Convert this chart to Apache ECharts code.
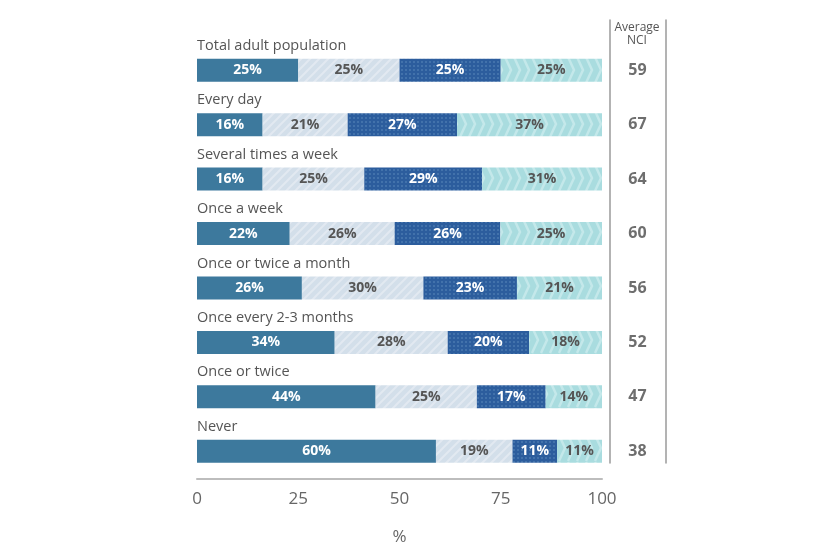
<!DOCTYPE html>
<html>
<head>
<meta charset="utf-8">
<script src="https://cdn.jsdelivr.net/npm/echarts@6/dist/echarts.min.js"></script>
<style>html,body{margin:0;padding:0;background:#fff}#c{width:830px;height:553px}</style>
</head>
<body>
<div id="c"></div>
<script>
const categories = ['Total adult population','Every day','Several times a week','Once a week','Once or twice a month','Once every 2-3 months','Once or twice','Never'];
// segment widths
const seg1 = [25, 16.2, 16.2, 22.9, 25.9, 34.0, 44.1, 59.0];
const seg2 = [25, 21.0, 25.1, 25.9, 30.0, 27.9, 25.0, 18.9];
const seg3 = [25, 27.0, 29.1, 26.1, 23.1, 20.1, 17.0, 11.0];
const seg4 = [25, 35.8, 29.6, 25.1, 21.0, 18.0, 13.9, 11.1];
// printed labels
const lab1 = [25, 16, 16, 22, 26, 34, 44, 60];
const lab2 = [25, 21, 25, 26, 30, 28, 25, 19];
const lab3 = [25, 27, 29, 26, 23, 20, 17, 11];
const lab4 = [25, 37, 31, 25, 21, 18, 14, 11];
const nci = [59, 67, 64, 60, 56, 52, 47, 38];
const xTicks = [0, 25, 50, 75, 100];

function pat(w, h, draw){
  const c = document.createElement('canvas'); c.width = w; c.height = h;
  const g = c.getContext('2d'); draw(g, w, h);
  return {image: c, repeat: 'repeat'};
}
const stripes = pat(9, 9, (g, w, h) => {
  g.fillStyle = '#d3dfea'; g.fillRect(0, 0, w, h);
  g.strokeStyle = '#e2e9f1'; g.lineWidth = 2;
  g.beginPath(); g.moveTo(-1, 10); g.lineTo(10, -1);
  g.moveTo(-1, 1); g.lineTo(1, -1); g.moveTo(8, 10); g.lineTo(10, 8); g.stroke();
});
const dots = pat(4, 4, (g, w, h) => {
  g.fillStyle = '#2c5d9d'; g.fillRect(0, 0, w, h);
  g.fillStyle = '#4272ab'; g.fillRect(1, 1, 2, 2);
});
const chevrons = pat(9, 54, (g, w, h) => {
  g.fillStyle = '#a9dcdf'; g.fillRect(0, 0, w, h);
  g.strokeStyle = '#c4e8ea'; g.lineWidth = 2.5;
  [16, 43].forEach(cy => {
    g.beginPath(); g.moveTo(1, cy - 13); g.lineTo(7, cy); g.lineTo(1, cy + 13); g.stroke();
  });
});

const FONT = '"Open Sans", sans-serif';
function mk(name, data, labels, color, txtColor){
  return {
    name, type: 'bar', stack: 'a', data, barWidth: 23,
    xAxisIndex: 0, yAxisIndex: 0,
    itemStyle: {color},
    label: {show: true, position: 'inside', color: txtColor, fontFamily: FONT, fontWeight: 'bold', fontSize: 14,
      formatter: p => labels[p.dataIndex] + '%'},
    emphasis: {disabled: true}, animation: false
  };
}

const chart = echarts.init(document.getElementById('c'));
chart.setOption({
  animation: false,
  title: {text: 'Average\nNCI', left: 637, top: 21, textAlign: 'center', padding: 0,
    textStyle: {fontFamily: FONT, fontSize: 12, fontWeight: 'normal', color: '#555', lineHeight: 13}},
  grid: [
    {left: 197, right: 228, top: 43, bottom: 74.5},
    {left: 609.5, right: 164.5, top: 20, bottom: 90},
    {left: 609.5, right: 164.5, top: 43, bottom: 74.5}
  ],
  xAxis: [
    {gridIndex: 0, type: 'value', min: 0, max: 100, interval: 25,
      axisLine: {show: true, lineStyle: {color: '#bdbdbd', width: 2}}, axisTick: {show: false}, splitLine: {show: false},
      axisLabel: {color: '#666', fontFamily: FONT, fontSize: 17, margin: 12, formatter: v => xTicks.includes(v) ? String(v) : ''},
      name: '%', nameLocation: 'middle', nameGap: 50, nameTextStyle: {color: '#666', fontFamily: FONT, fontSize: 17}},
    {gridIndex: 1, type: 'value', show: false},
    {gridIndex: 2, type: 'value', min: 0, max: 1, show: false}
  ],
  yAxis: [
    {gridIndex: 0, type: 'category', data: categories, inverse: true,
      axisLine: {show: false}, axisTick: {show: false}, splitLine: {show: false},
      axisLabel: {inside: true, interval: 0, margin: 0, align: 'left', verticalAlign: 'bottom', padding: [0, 0, 17, 0],
        color: '#555', fontFamily: FONT, fontSize: 14.5}},
    {gridIndex: 1, type: 'value', position: 'left', axisLine: {show: true, onZero: false, lineStyle: {color: '#9a9a9a', width: 1.5}},
      axisTick: {show: false}, axisLabel: {show: false}, splitLine: {show: false}},
    {gridIndex: 1, type: 'value', position: 'right', axisLine: {show: true, onZero: false, lineStyle: {color: '#9a9a9a', width: 1.5}},
      axisTick: {show: false}, axisLabel: {show: false}, splitLine: {show: false}},
    {gridIndex: 2, type: 'category', data: categories, inverse: true, show: false}
  ],
  series: [
    mk('s1', seg1, lab1, '#3d799d', '#fff'),
    mk('s2', seg2, lab2, stripes, '#555'),
    mk('s3', seg3, lab3, dots, '#fff'),
    mk('s4', seg4, lab4, chevrons, '#555'),
    {type: 'scatter', xAxisIndex: 2, yAxisIndex: 3, symbolSize: 0,
      data: categories.map(c => [0.5, c]),
      label: {show: true, position: 'inside', color: '#4a4a4a', fontFamily: FONT, fontWeight: 'bold', fontSize: 16,
        formatter: p => String(nci[p.dataIndex])}, silent: true}
  ]
});
</script>
</body>
</html>
